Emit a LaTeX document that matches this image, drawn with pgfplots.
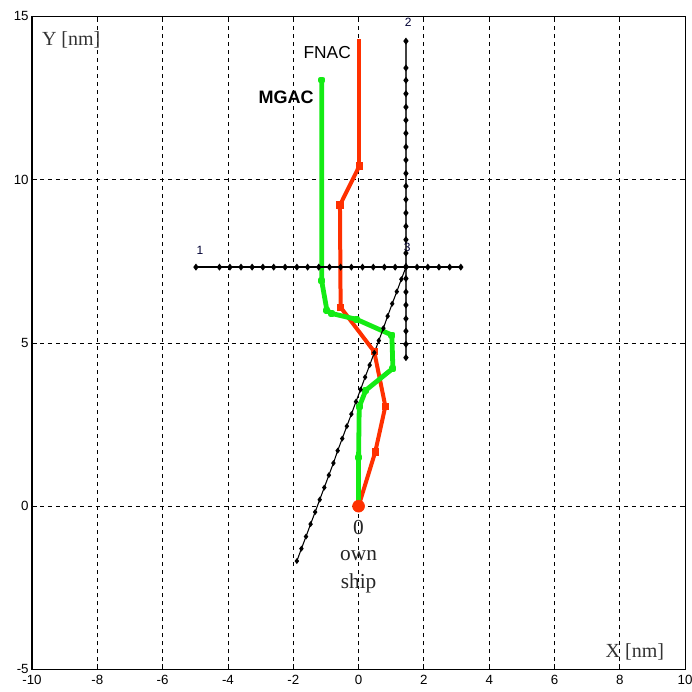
\documentclass[border=0pt]{standalone}
\usepackage{pgfplots}
\pgfplotsset{compat=1.18}
\usepackage{fontspec}
\setmainfont{Liberation Sans}
\newfontfamily\serif{Liberation Serif}

\definecolor{fnac}{RGB}{255,48,0}
\definecolor{mgac}{RGB}{20,235,20}

\begin{document}
\begin{tikzpicture}
\begin{axis}[
    width=490pt, height=490pt, scale only axis,
    xmin=-10, xmax=10, ymin=-5, ymax=15,
    xtick={-10,-8,...,10}, ytick={-5,0,5,10,15},
    grid=major,
    grid style={dashed, black, line width=0.6pt},
    axis line style={black, line width=0.8pt},
    tick style={black, line width=0.6pt},
    major tick length=4pt,
    tick label style={font=\fontsize{10}{11}\selectfont},
    xticklabel style={yshift=-1pt},
    yticklabel style={xshift=1pt},
    /pgf/number format/assume math mode=true,
    clip=false]

% FNAC
\addplot[fnac, line width=3pt, mark=square*, mark size=1.3pt] coordinates {
  (0,0) (0.51,1.66) (0.82,3.06) (0.48,4.73) (-0.55,6.09) (-0.57,9.22) (0.02,10.41)
};
\addplot[fnac, line width=3pt] coordinates {(0.02,10.41) (0.02,14.3)};

% MGAC
\addplot[mgac, line width=3.6pt, line join=round, mark=square*, mark size=0.8pt] coordinates {
  (0,0) (0.0,1.5) (0.02,3.04) (0.22,3.55) (1.05,4.22) (1.02,5.24)
  (-0.06,5.72) (-0.82,5.9) (-0.97,6.0) (-1.13,6.9) (-1.13,13.05)
};

% target ship tracks
\addplot[black, line width=1.3pt, mark=diamond*, mark size=1.6pt] coordinates {
  (-4.98,7.32) (-4.26,7.32) (-3.94,7.32) (-3.60,7.32) (-3.26,7.32) (-2.93,7.32)
  (-2.60,7.32) (-2.25,7.32) (-1.89,7.32) (-1.56,7.32) (-1.22,7.32) (-0.89,7.32)
  (-0.55,7.32) (-0.22,7.32) (0.12,7.32) (0.45,7.32) (0.79,7.32) (1.12,7.32)
  (1.45,7.32) (1.79,7.32) (2.12,7.32) (2.46,7.32) (2.79,7.32) (3.13,7.32)
};
\addplot[black!75, line width=1.3pt, mark=diamond*, mark size=1.6pt,
  mark options={black}] coordinates {
  (1.45,14.24) (1.45,13.42) (1.45,13.04) (1.45,12.63) (1.45,12.22) (1.45,11.82)
  (1.45,11.42) (1.45,11.00) (1.45,10.60) (1.45,10.19) (1.45,9.80) (1.45,9.39)
  (1.45,8.98) (1.45,8.57) (1.45,8.16) (1.45,7.75) (1.45,7.34) (1.45,6.97)
  (1.45,6.56) (1.45,6.16) (1.45,5.74) (1.45,5.36) (1.45,4.96) (1.45,4.55)
};
\addplot[black, line width=0.8pt, mark=diamond*, mark size=1.6pt] coordinates {
  (1.45,7.32) (1.31,6.95) (1.17,6.57) (1.03,6.20) (0.89,5.82) (0.76,5.45)
  (0.62,5.07) (0.48,4.70) (0.34,4.32) (0.20,3.95) (0.06,3.57) (-0.08,3.20)
  (-0.22,2.82) (-0.36,2.45) (-0.50,2.07) (-0.64,1.70) (-0.77,1.32) (-0.91,0.95)
  (-1.05,0.57) (-1.19,0.20) (-1.33,-0.18) (-1.47,-0.55) (-1.61,-0.93) (-1.75,-1.30)
  (-1.89,-1.68)
};

% own ship
\addplot[fnac, only marks, mark=*, mark size=4.5pt] coordinates {(0,0)};

\node[font=\fontsize{9}{10}\selectfont, text=black!80!blue] at (axis cs:-4.86,7.84) {1};
\node[font=\fontsize{9}{10}\selectfont, text=black!80!blue] at (axis cs:1.52,14.82) {2};
\node[font=\fontsize{9}{10}\selectfont, text=black!80!blue] at (axis cs:1.49,7.93) {3};

\node[font=\fontsize{13}{15}\selectfont] at (axis cs:-0.96,13.9) {FNAC};
\node[font=\fontsize{13.5}{15}\selectfont\bfseries] at (axis cs:-2.22,12.53) {MGAC};

\node[font=\serif\fontsize{15}{17}\selectfont, text=black!80] at (axis cs:-8.8,14.27) {Y [nm]};
\node[font=\serif\fontsize{15}{17}\selectfont, text=black!80] at (axis cs:8.46,-4.47) {X [nm]};

\node[font=\serif\fontsize{16}{18}\selectfont, text=black!85] at (axis cs:0,-0.64) {0};
\node[font=\serif\fontsize{16}{18}\selectfont, text=black!85] at (axis cs:0,-1.5) {own};
\node[font=\serif\fontsize{16}{18}\selectfont, text=black!85] at (axis cs:0,-2.36) {ship};

\coordinate (bl) at (axis cs:-10.98,-5.67);
\coordinate (tr) at (axis cs:10.21,15.5);
\end{axis}
\pgfresetboundingbox
\path[use as bounding box] (bl) rectangle (tr);
\end{tikzpicture}
\end{document}
